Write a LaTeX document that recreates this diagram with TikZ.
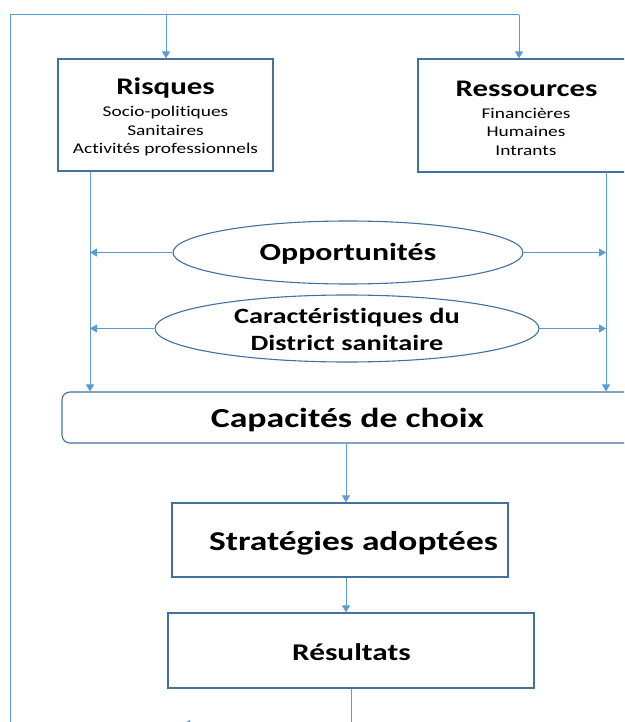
\documentclass[tikz,border=0pt]{standalone}
\usepackage{fontspec}
\setmainfont{Carlito}[FakeStretch=1.3,Ligatures=NoCommon]
\usetikzlibrary{arrows.meta,shapes.geometric}
\definecolor{conn}{HTML}{5B9BD5}
\definecolor{boxline}{HTML}{41719C}
\begin{document}
\begin{tikzpicture}[x=1pt,y=-1pt,
  conn/.style={draw=conn,line width=1pt},
  arr/.style={conn,-{Triangle[width=8pt,length=7pt]}},
  box/.style={draw=boxline,line width=1.3pt,rectangle,inner sep=0pt,fill=white},
  oval/.style={draw=boxline,line width=1.1pt,ellipse,inner sep=0pt,fill=white},
  ttl/.style={font=\bfseries\fontsize{23.8}{28}\selectfont},
  sub/.style={font=\fontsize{14.9}{18.5}\selectfont},
]
\useasboundingbox (0,0) rectangle (624,722);
\clip (0,0) rectangle (624,722);
% boxes
\node[box,minimum width=215pt,minimum height=112pt] (risq) at (165.5,115) {};
\node[ttl] at (165.5,88.5) {Risques};
\node[sub,align=center] at (165.5,131.5) {Socio-politiques\\Sanitaires\\Activités professionnels};
\node[box,minimum width=222pt,minimum height=113pt] (ress) at (529,115.5) {};
\node[ttl] at (526.5,88.5) {Ressources};
\node[sub,align=center] at (526,131.5) {Financières\\Humaines\\Intrants};
\node[oval,minimum width=350pt,minimum height=63pt] (opp) at (348,252.5) {};
\node[font=\bfseries\fontsize{24.5}{28}\selectfont] at (348,253.5) {Opportunités};
\node[oval,minimum width=384pt,minimum height=67pt] (car) at (347,328.5) {};
\node[align=center,font=\bfseries\fontsize{21.8}{27.5}\selectfont] at (347,329.5) {Caractéristiques du\\District sanitaire};
\node[box,line width=1.1pt,rounded corners=8pt,minimum width=570pt,minimum height=51pt] (cap) at (347,417.5) {};
\node[font=\bfseries\fontsize{27.5}{32}\selectfont] at (347.5,420) {Capacités de choix};
\node[box,minimum width=336pt,minimum height=74pt] (strat) at (340,540) {};
\node[font=\bfseries\fontsize{27.2}{32}\selectfont] at (353.5,543.5) {Stratégies adoptées};
\node[box,minimum width=366pt,minimum height=75pt] (res) at (351,650.5) {};
\node[font=\bfseries\fontsize{24}{28}\selectfont] at (351.5,652) {Résultats};
% feedback frame
\coordinate (tl) at (10,15);
\coordinate (bl) at (10,740);
\coordinate (tr) at (519,15);
\coordinate (tm) at (166,15);
\draw[conn] (bl) -- (tl) -- (tr);
\draw[arr] (tm) -- (tm |- risq.north);
\draw[arr] (tr) -- (tr |- ress.north);
% side verticals
\coordinate (lt) at (90,171);
\coordinate (rt) at (606,172);
\draw[arr] (lt) -- (lt |- cap.north);
\draw[arr] (rt) -- (rt |- cap.north);
% ellipse arrows
\draw[arr] (opp.west) -- (opp.west -| lt);
\draw[arr] (opp.east) -- (opp.east -| rt);
\draw[arr] (car.west) -- (car.west -| lt);
\draw[arr] (car.east) -- (car.east -| rt);
% vertical chain
\coordinate (c1) at (346,0);
\draw[arr] (c1 |- cap.south) -- (c1 |- strat.north);
\draw[arr] (c1 |- strat.south) -- (c1 |- res.north);
\coordinate (rb) at (351,724);
\coordinate (lb) at (183,724);
\draw[conn] (res.south) -- (rb);
\draw[arr] (rb) -- (lb);
\end{tikzpicture}
\end{document}
